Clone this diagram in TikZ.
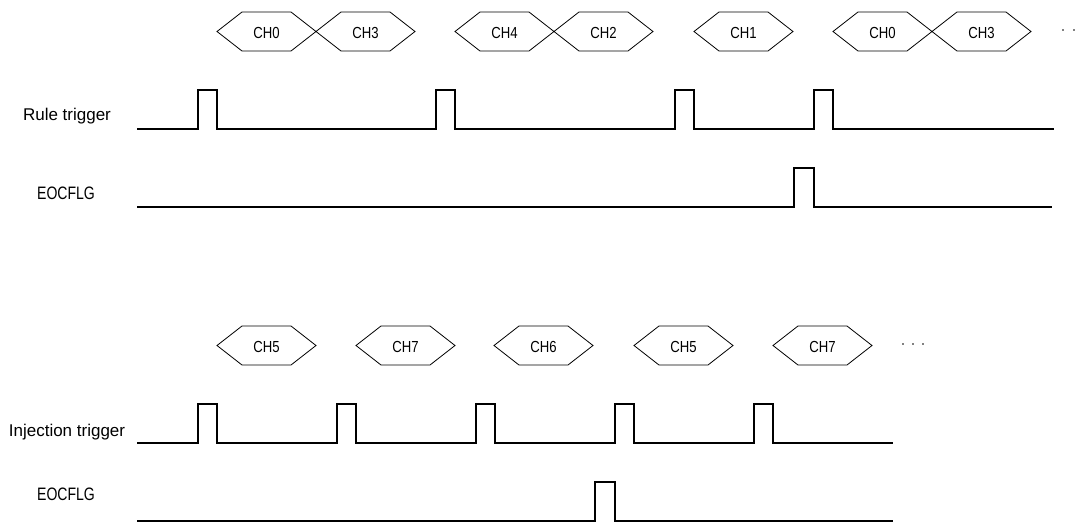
\documentclass[tikz,border=0pt]{standalone}
\usepackage{fontspec}
\setmainfont{Liberation Sans}
\newcommand\hexbox[4]{% left x, top y, label, name
  \draw[hexa] (#1,#2+19.5) -- (#1+25,#2) -- (#1+74,#2) -- (#1+99,#2+19.5) -- (#1+74,#2+39) -- (#1+25,#2+39) -- cycle;
  \node[chl] (#4) at (#1+49.5,#2+26.5) {\scalebox{0.82}[1]{#3}};
}
\begin{document}
\begin{tikzpicture}[x=1pt,y=-1pt,
  sig/.style={line width=1.1pt, line join=miter},
  hexa/.style={line width=0.8pt, line join=miter},
  lbl/.style={font=\fontsize{17}{17}\selectfont, inner sep=0, anchor=base},
  nar/.style={font=\fontsize{18}{18}\selectfont, inner sep=0, anchor=base},
  chl/.style={font=\fontsize{16}{16}\selectfont, inner sep=0, anchor=base},
  dotc/.style={fill=black, draw=none}]
\useasboundingbox (0,0) rectangle (1080,523);

% top hexagons
\hexbox{217}{12}{CH0}{a0}
\hexbox{316}{12}{CH3}{a1}
\hexbox{455}{12}{CH4}{a2}
\hexbox{554}{12}{CH2}{a3}
\hexbox{694}{12}{CH1}{a4}
\hexbox{833}{12}{CH0}{a5}
\hexbox{932}{12}{CH3}{a6}
\fill[dotc] (1063,30) circle (0.9);
\fill[dotc] (1074,30) circle (0.9);

% bottom hexagons
\hexbox{217}{326}{CH5}{b0}
\hexbox{356}{326}{CH7}{b1}
\hexbox{494}{326}{CH6}{b2}
\hexbox{634}{326}{CH5}{b3}
\hexbox{773}{326}{CH7}{b4}
\fill[dotc] (903,344) circle (0.9);
\fill[dotc] (913,344) circle (0.9);
\fill[dotc] (923,344) circle (0.9);

% labels
\node[lbl] (lr) at (67,120.5) {Rule trigger};
\node[nar] (le1) at (66,199) {\scalebox{0.78}[1]{EOCFLG}};
\node[lbl] (li) at (67,436) {Injection trigger};
\node[nar] (le2) at (66,500) {\scalebox{0.78}[1]{EOCFLG}};

% rule trigger
\draw[sig] (137,129) -- (198,129) -- ++(0,-39) -- ++(19,0) -- ++(0,39)
  -- (436,129) -- ++(0,-39) -- ++(19,0) -- ++(0,39)
  -- (675,129) -- ++(0,-39) -- ++(19,0) -- ++(0,39)
  -- (814,129) -- ++(0,-39) -- ++(19,0) -- ++(0,39)
  -- (1054,129);
% EOCFLG top
\draw[sig] (137,207) -- (794,207) -- ++(0,-39) -- ++(20,0) -- ++(0,39) -- (1052,207);

% injection trigger
\draw[sig] (137,443) -- (198,443) -- ++(0,-39) -- ++(19,0) -- ++(0,39)
  -- (337,443) -- ++(0,-39) -- ++(19,0) -- ++(0,39)
  -- (476,443) -- ++(0,-39) -- ++(19,0) -- ++(0,39)
  -- (615,443) -- ++(0,-39) -- ++(19,0) -- ++(0,39)
  -- (754,443) -- ++(0,-39) -- ++(19,0) -- ++(0,39)
  -- (893,443);
% EOCFLG bottom
\draw[sig] (137,521) -- (595,521) -- ++(0,-39) -- ++(20,0) -- ++(0,39) -- (893,521);
\end{tikzpicture}
\end{document}
